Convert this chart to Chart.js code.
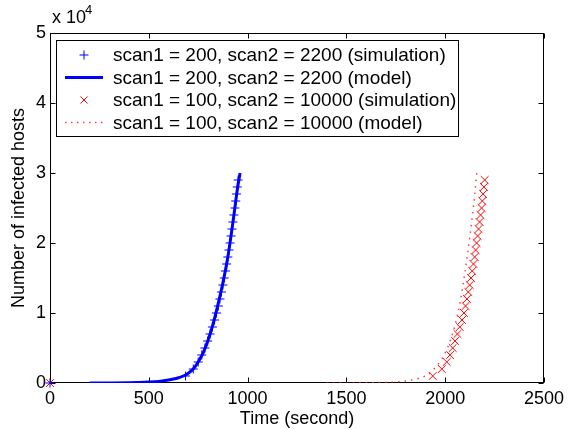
<!DOCTYPE html>
<html><head><meta charset="utf-8">
<script src="https://cdn.jsdelivr.net/npm/chart.js@4.4.1/dist/chart.umd.min.js"></script>
<style>html,body{margin:0;padding:0;background:#fff}#wrap{width:569px;height:430px}</style>
</head><body><div id="wrap"><canvas id="c" width="569" height="430"></canvas></div>
<script>
// ---- data ----
const xTicks = [0, 500, 1000, 1500, 2000, 2500];
const yTicks = [0, 10000, 20000, 30000, 40000, 50000];

const blueSimT = [0, 686, 725, 750, 768, 784, 798, 810, 822, 833, 843, 852, 860, 868, 875, 882, 888, 894, 900, 906, 911, 916, 921, 926, 931, 936, 940, 944, 948, 952];
const blueSimN = [0, 1000, 2000, 3000, 4000, 5000, 6000, 7000, 8000, 9000, 10000, 11000, 12000, 13000, 14000, 15000, 16000, 17000, 18000, 19000, 20000, 21000, 22000, 23000, 24000, 25000, 26000, 27000, 28000, 29000];

const blueModelT = [200, 300, 400, 450, 500, 550, 600, 625, 650, 675, 700, 725, 750, 775, 800, 825, 850, 875, 900, 925, 950, 962];
const blueModelN = [0, 10, 40, 70, 130, 230, 420, 560, 750, 1000, 1400, 2000, 3000, 4300, 6100, 8400, 11200, 14300, 18000, 22800, 28000, 30000];

const redSimT = [0, 1937, 1983, 2008, 2025, 2038, 2050, 2062, 2074, 2085, 2095, 2103, 2110, 2117, 2124, 2131, 2137, 2143, 2149, 2154, 2159, 2164, 2169, 2174, 2179, 2184, 2188, 2192, 2196, 2200];
const redSimN = [0, 1000, 2000, 3000, 4000, 5000, 6000, 7000, 8000, 9000, 10000, 11000, 12000, 13000, 14000, 15000, 16000, 17000, 18000, 19000, 20000, 21000, 22000, 23000, 24000, 25000, 26000, 27000, 28000, 29000];

const redModelT = [1400, 1500, 1600, 1700, 1750, 1800, 1850, 1900, 1925, 1950, 1975, 2000, 2025, 2050, 2075, 2100, 2125, 2150, 2160];
const redModelN = [0, 10, 30, 80, 150, 270, 550, 1000, 1500, 2200, 3100, 4300, 6000, 8300, 11500, 15800, 21000, 27000, 30000];

const legendLabels = [
  'scan1 = 200, scan2 = 2200 (simulation)',
  'scan1 = 200, scan2 = 2200 (model)',
  'scan1 = 100, scan2 = 10000 (simulation)',
  'scan1 = 100, scan2 = 10000 (model)'
];
const xTitle = 'Time (second)';
const yTitle = 'Number of infected hosts';

// ---- build ----
const pts = (t, n) => t.map((v, i) => ({x: v, y: n[i]}));
const FONT = '"Liberation Sans", Arial, Helvetica, sans-serif';
const BLUE = '#0000ff', RED = '#ff0000';

const framePlugin = {
  id: 'frame',
  beforeDatasetsDraw(chart) {
    const {ctx, chartArea: a, scales} = chart;
    ctx.save();
    ctx.strokeStyle = '#000';
    ctx.lineWidth = 1;
    const L = Math.round(a.left) + 0.5, R = Math.round(a.right) - 0.5;
    const T = Math.round(a.top) + 0.5, B = Math.round(a.bottom) - 0.5;
    ctx.strokeRect(L, T, R - L, B - T);
    ctx.beginPath();
    const tl = 5;
    xTicks.forEach(v => {
      const x = Math.round(scales.x.getPixelForValue(v)) + 0.5;
      ctx.moveTo(x, B); ctx.lineTo(x, B - tl);
      ctx.moveTo(x, T); ctx.lineTo(x, T + tl);
    });
    yTicks.forEach(v => {
      const y = Math.round(scales.y.getPixelForValue(v)) + 0.5;
      ctx.moveTo(L, y); ctx.lineTo(L + tl, y);
      ctx.moveTo(R, y); ctx.lineTo(R - tl, y);
    });
    ctx.stroke();

    // exponent label
    ctx.fillStyle = '#000';
    ctx.textBaseline = 'alphabetic';
    ctx.textAlign = 'left';
    ctx.font = '18px ' + FONT;
    ctx.fillText('x 10', a.left + 2, a.top - 10);
    ctx.font = '13px ' + FONT;
    ctx.fillText('4', a.left + 35, a.top - 19);
    ctx.restore();
  },
  afterDraw(chart) {
    const {ctx} = chart;
    ctx.save();
    // legend
    const bx = 56.5, by = 40.5, bw = 402, bh = 96;
    ctx.fillStyle = '#fff';
    ctx.fillRect(bx, by, bw, bh);
    ctx.strokeStyle = '#000';
    ctx.lineWidth = 1;
    ctx.strokeRect(bx, by, bw, bh);
    const rows = [55, 77.5, 100, 122.5];
    const mx = 84, lx0 = 65, lx1 = 103;
    ctx.font = '19px ' + FONT;
    ctx.textBaseline = 'middle';
    ctx.textAlign = 'left';
    ctx.fillStyle = '#000';
    legendLabels.forEach((t, i) => ctx.fillText(t, 113, rows[i] + 1));
    // + marker
    ctx.strokeStyle = BLUE; ctx.lineWidth = 1;
    ctx.beginPath();
    ctx.moveTo(mx - 4.5, rows[0]); ctx.lineTo(mx + 4.5, rows[0]);
    ctx.moveTo(mx, rows[0] - 4.5); ctx.lineTo(mx, rows[0] + 4.5);
    ctx.stroke();
    // solid line
    ctx.lineWidth = 3;
    ctx.beginPath(); ctx.moveTo(lx0, rows[1]); ctx.lineTo(lx1, rows[1]); ctx.stroke();
    // x marker
    ctx.strokeStyle = RED; ctx.lineWidth = 1;
    ctx.beginPath();
    ctx.moveTo(mx - 3.5, rows[2] - 3.5); ctx.lineTo(mx + 3.5, rows[2] + 3.5);
    ctx.moveTo(mx + 3.5, rows[2] - 3.5); ctx.lineTo(mx - 3.5, rows[2] + 3.5);
    ctx.stroke();
    // dotted
    ctx.strokeStyle = 'rgba(255,30,30,0.85)'; ctx.lineWidth = 1.5;
    ctx.setLineDash([1.5, 4.5]);
    ctx.beginPath(); ctx.moveTo(lx0, rows[3]); ctx.lineTo(lx1, rows[3]); ctx.stroke();
    ctx.restore();
  }
};

new Chart(document.getElementById('c'), {
  type: 'scatter',
  data: {
    datasets: [
      {label: legendLabels[0], data: pts(blueSimT, blueSimN), showLine: false, clip: false,
       pointStyle: 'cross', pointRadius: 4.5, borderColor: BLUE, backgroundColor: BLUE, pointBorderWidth: 1, order: 1},
      {label: legendLabels[1], data: pts(blueModelT, blueModelN), showLine: true,
       pointRadius: 0, borderColor: BLUE, borderWidth: 3, cubicInterpolationMode: 'monotone', order: 2},
      {label: legendLabels[2], data: pts(redSimT, redSimN), showLine: false, clip: false,
       pointStyle: 'crossRot', pointRadius: 5.5, borderColor: RED, backgroundColor: RED, pointBorderWidth: 1, order: 3},
      {label: legendLabels[3], data: pts(redModelT, redModelN), showLine: true,
       pointRadius: 0, borderColor: 'rgba(255,30,30,0.85)', borderWidth: 1.5, borderDash: [1.5, 5],
       cubicInterpolationMode: 'monotone', order: 4}
    ]
  },
  options: {
    responsive: false,
    animation: false,
    devicePixelRatio: 1,
    layout: {padding: {top: 33, right: 21, left: 0, bottom: 0}},
    plugins: {legend: {display: false}, tooltip: {enabled: false}},
    scales: {
      x: {
        type: 'linear', min: 0, max: 2500,
        afterBuildTicks: s => { s.ticks = xTicks.map(v => ({value: v})); },
        afterFit: s => { s.height = 47; },
        grid: {display: false, drawTicks: false}, border: {display: false},
        ticks: {color: '#000', font: {family: FONT, size: 18}, padding: 5, maxRotation: 0, autoSkip: false,
                callback: v => String(v)},
        title: {display: true, text: xTitle, color: '#000', font: {family: FONT, size: 18}, padding: {top: 0, bottom: 0}}
      },
      y: {
        type: 'linear', min: 0, max: 50000,
        afterBuildTicks: s => { s.ticks = yTicks.map(v => ({value: v})); },
        afterFit: s => { s.width = 50; },
        grid: {display: false, drawTicks: false}, border: {display: false},
        ticks: {color: '#000', font: {family: FONT, size: 18}, padding: 4, callback: v => String(v / 10000)},
        title: {display: true, text: yTitle, color: '#000', font: {family: FONT, size: 18}, padding: {top: 8, bottom: 0}}
      }
    }
  },
  plugins: [framePlugin]
});
</script></body></html>
